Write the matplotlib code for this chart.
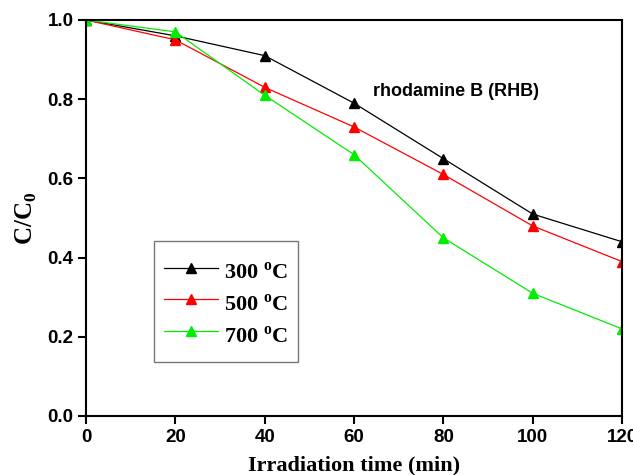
import matplotlib
matplotlib.use("Agg")
import matplotlib.pyplot as plt

time = [0, 20, 40, 60, 80, 100, 120]
c300 = [1.0, 0.96, 0.91, 0.79, 0.65, 0.51, 0.44]
c500 = [1.0, 0.95, 0.83, 0.73, 0.61, 0.48, 0.39]
c700 = [1.0, 0.97, 0.81, 0.66, 0.45, 0.31, 0.22]
labels = ["300 $^\\mathregular{o}$C", "500 $^\\mathregular{o}$C", "700 $^\\mathregular{o}$C"]
colors = ["black", "red", "#00ee00"]

fig = plt.figure(figsize=(6.33, 4.75), dpi=100)
ax = fig.add_axes([86/633, 1-416/475, (622-86)/633, (416-20)/475])

for y, lab, col in zip([c300, c500, c700], labels, colors):
    ax.plot(time, y, color=col, lw=0.9, marker="^", ms=7, mec=col, mfc=col, label=lab)

ax.set_xlim(0, 120)
ax.set_ylim(0, 1.0)
ax.set_xticks(time)
ax.set_yticks([0.0, 0.2, 0.4, 0.6, 0.8, 1.0])
ax.set_yticklabels(["0.0", "0.2", "0.4", "0.6", "0.8", "1.0"])
for s in ax.spines.values():
    s.set_linewidth(1.5)
ax.tick_params(direction="out", length=6, width=1.5, labelsize=13.5, pad=3)
for t in ax.get_xticklabels() + ax.get_yticklabels():
    t.set_fontfamily("Liberation Sans")
    t.set_fontweight("bold")

ax.set_xlabel("Irradiation time (min)", fontfamily="Liberation Serif", fontweight="bold", fontsize=16, labelpad=7)
ax.set_ylabel("C/C$_\\mathregular{0}$", fontfamily="Liberation Serif", fontweight="bold", fontsize=18, labelpad=6)

ax.text(0.535, 0.82, "rhodamine B (RHB)", transform=ax.transAxes, fontfamily="Liberation Sans",
        fontweight="bold", fontsize=13, va="center", ha="left")

leg = ax.legend(loc="upper left", bbox_to_anchor=(0.1269, 0.442), borderaxespad=0, frameon=True, fancybox=False,
                edgecolor="#555555", handlelength=2.45, handletextpad=0.25, borderpad=0.45,
                handleheight=1.9, labelspacing=-0.05, title=" ", title_fontsize=5,
                prop={"family": "Liberation Serif", "weight": "bold", "size": 16})
leg.get_frame().set_linewidth(1.0)

fig.savefig("out.png", dpi=100)
